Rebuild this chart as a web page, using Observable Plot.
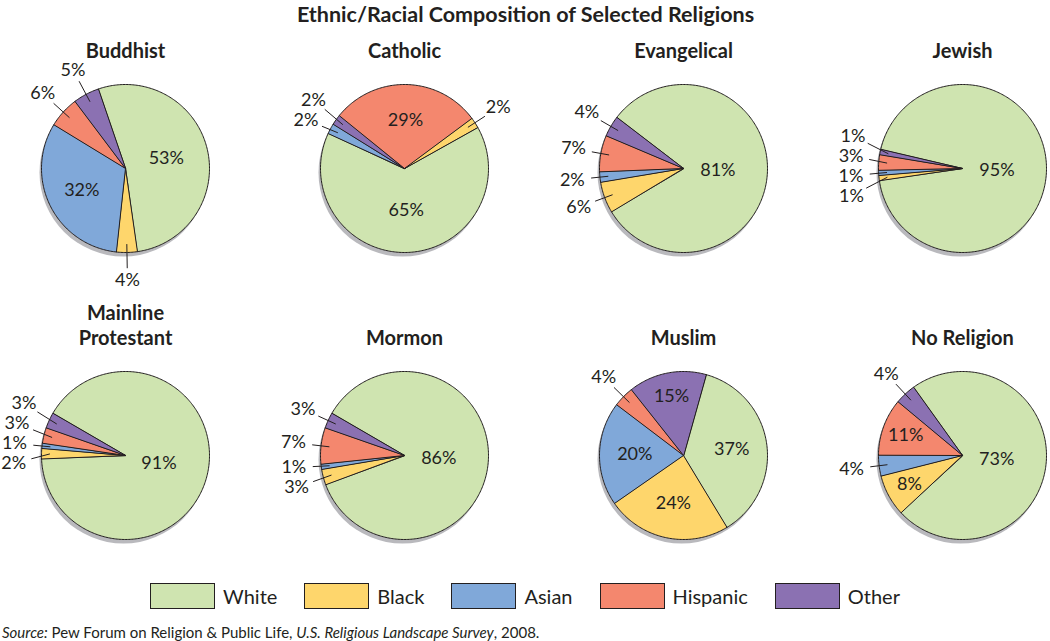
<!DOCTYPE html>
<html>
<head>
<meta charset="utf-8">
<script src="https://cdn.jsdelivr.net/npm/d3@7"></script>
<script src="https://cdn.jsdelivr.net/npm/@observablehq/plot@0.6"></script>
<style>
  body { margin: 0; background: #fff; font-family: Lato, "Open Sans", sans-serif; color: #231f20; }
  #wrap { width: 1050px; height: 641px; overflow: hidden; }
  .legend { display: flex; justify-content: center; align-items: center; height: 42px; }
  .legend .item { display: flex; align-items: center; margin-right: 27px; }
  .legend .item:last-child { margin-right: 0; }
  .legend .sw { width: 63px; height: 24px; border: 1px solid #231f20; margin-right: 8px; }
  .legend .tx { font-size: 20px; }
  .source { height: 30px; line-height: 30px; font-size: 15px; padding-left: 2px; }
</style>
</head>
<body>
<div id="wrap"></div>
<script>
// ---------- data ----------
const chartTitle = "Ethnic/Racial Composition of Selected Religions";
const religions = ["Buddhist", "Catholic", "Evangelical", "Jewish", "Mainline\nProtestant", "Mormon", "Muslim", "No Religion"];
const groups = ["White", "Black", "Asian", "Hispanic", "Other"];
const white    = [53, 65, 81, 95, 91, 86, 37, 73];
const black    = [ 4,  2,  6,  1,  2,  3, 24,  8];
const asian    = [32,  2,  2,  1,  1,  1, 20,  4];
const hispanic = [ 6, 29,  7,  3,  3,  7,  4, 11];
const other    = [ 5,  2,  4,  1,  3,  3, 15,  4];

// ---------- layout / style ----------
const colors = ["#cfe4b0", "#fed66c", "#80a8d9", "#f4876e", "#8b71b2"];
const ink = "#231f20";
// clockwise drawing order of the slices in each pie
const defaultOrder = ["White", "Black", "Asian", "Hispanic", "Other"];
const catholicOrder = ["White", "Asian", "Other", "Hispanic", "Black"];
// angle (degrees clockwise from 12 o'clock) at which the first slice starts
const startAngle = [-19, 60.6, -52.7, -77, -60, -60, 15.6, -35.8];
const R = 84, colStep = 279, rowStep = 287, firstCx = 125, firstCy = 168;
const svgH = 575;
const labelSize = 18;

const valueOf = {White: white, Black: black, Asian: asian, Hispanic: hispanic, Other: other};
const rad = d => d * Math.PI / 180;
const pies = religions.map((name, i) => ({
  name, i,
  cx: firstCx + (i % 4) * colStep,
  cy: firstCy + Math.floor(i / 4) * rowStep
}));
const pt = (p, a, rr) => [p.cx + rr * Math.sin(rad(a)), p.cy - rr * Math.cos(rad(a))];

const slicePts = [], inside = [], outside = [];
const minGap = 20;
pies.forEach(p => {
  const order = p.name === "Catholic" ? catholicOrder : defaultOrder;
  const total = d3.sum(order, g => valueOf[g][p.i]);
  let a0 = startAngle[p.i];
  const outs = [];
  order.forEach(g => {
    const v = valueOf[g][p.i];
    const a1 = a0 + v / total * 360;
    const id = p.name + "|" + g;
    slicePts.push({id, group: g, x: p.cx, y: p.cy});
    const n = Math.max(2, Math.ceil(a1 - a0));
    for (let k = 0; k <= n; k++) {
      const [x, y] = pt(p, a0 + (a1 - a0) * k / n, R);
      slicePts.push({id, group: g, x, y});
    }
    const mid = (a0 + a1) / 2;
    const label = v + "%";
    if (v >= 8) {
      const f = v >= 70 ? 0.41 : v >= 50 ? 0.5 : v >= 20 ? 0.58 : 0.72;
      const [x, y] = pt(p, mid, R * f);
      inside.push({x, y, label});
    } else {
      const [x, y] = pt(p, mid, R * 1.33);
      const [x1, y1] = pt(p, mid, R * 0.9);
      outs.push({x, y, x1, y1, label, left: Math.sin(rad(mid)) < 0});
    }
    a0 = a1;
  });
  for (const side of [true, false]) {
    const grp = outs.filter(o => o.left === side).sort((a, b) => a.y - b.y);
    for (let it = 0; it < 200; it++) {
      for (let j = 1; j < grp.length; j++) {
        const gap = grp[j].y - grp[j - 1].y;
        if (gap < minGap) { const d = (minGap - gap) / 2; grp[j].y += d; grp[j - 1].y -= d; }
      }
    }
  }
  outs.forEach(o => {
    const dx = o.x - o.x1, dy = o.y - o.y1, L = Math.hypot(dx, dy);
    const ux = dx / L, uy = dy / L;
    const k = 1 / Math.hypot(ux / 19, uy / 12);
    o.x2 = o.x - ux * k; o.y2 = o.y - uy * k;
    outside.push(o);
  });
});

const chart = Plot.plot({
  width: 1050,
  height: svgH,
  margin: 0,
  x: {domain: [0, 1050], range: [0, 1050], axis: null},
  y: {domain: [0, svgH], range: [0, svgH], axis: null},
  color: {domain: groups, range: colors},
  style: {fontFamily: "Lato, 'Open Sans', sans-serif", background: "#fff", color: ink},
  marks: [
    Plot.text([chartTitle], {frameAnchor: "top", lineAnchor: "top", dy: 6.5, fontSize: 21.5, fontWeight: "bold", fill: ink}),
    Plot.text(pies, {x: "cx", y: d => d.cy - 111, text: "name", lineAnchor: "bottom", lineHeight: 1.25, fontSize: 20, fontWeight: "bold", fill: ink}),
    Plot.dot(pies, {x: d => d.cx - 2, y: d => d.cy + 4, r: R, fill: "#b9b9bd", stroke: "none"}),
    Plot.line(slicePts, {x: "x", y: "y", z: "id", fill: "group", stroke: ink, strokeWidth: 1, strokeLinejoin: "round", curve: "linear-closed"}),
    Plot.link(outside, {x1: "x1", y1: "y1", x2: "x2", y2: "y2", stroke: ink, strokeWidth: 1}),
    Plot.text(inside, {x: "x", y: "y", text: "label", fontSize: labelSize, fill: ink}),
    Plot.text(outside, {x: "x", y: "y", text: "label", fontSize: labelSize, fill: ink})
  ]
});

const wrap = document.getElementById("wrap");
wrap.appendChild(chart);

const legend = document.createElement("div");
legend.className = "legend";
groups.forEach((g, i) => {
  const item = document.createElement("div");
  item.className = "item";
  const sw = document.createElement("div");
  sw.className = "sw";
  sw.style.background = chart.scale("color").apply(g);
  const tx = document.createElement("span");
  tx.className = "tx";
  tx.textContent = g;
  item.appendChild(sw); item.appendChild(tx);
  legend.appendChild(item);
});
wrap.appendChild(legend);

const src = document.createElement("div");
src.className = "source";
src.innerHTML = "<i>Source:</i> Pew Forum on Religion &amp; Public Life, <i>U.S. Religious Landscape Survey</i>, 2008.";
wrap.appendChild(src);
</script>
</body>
</html>
